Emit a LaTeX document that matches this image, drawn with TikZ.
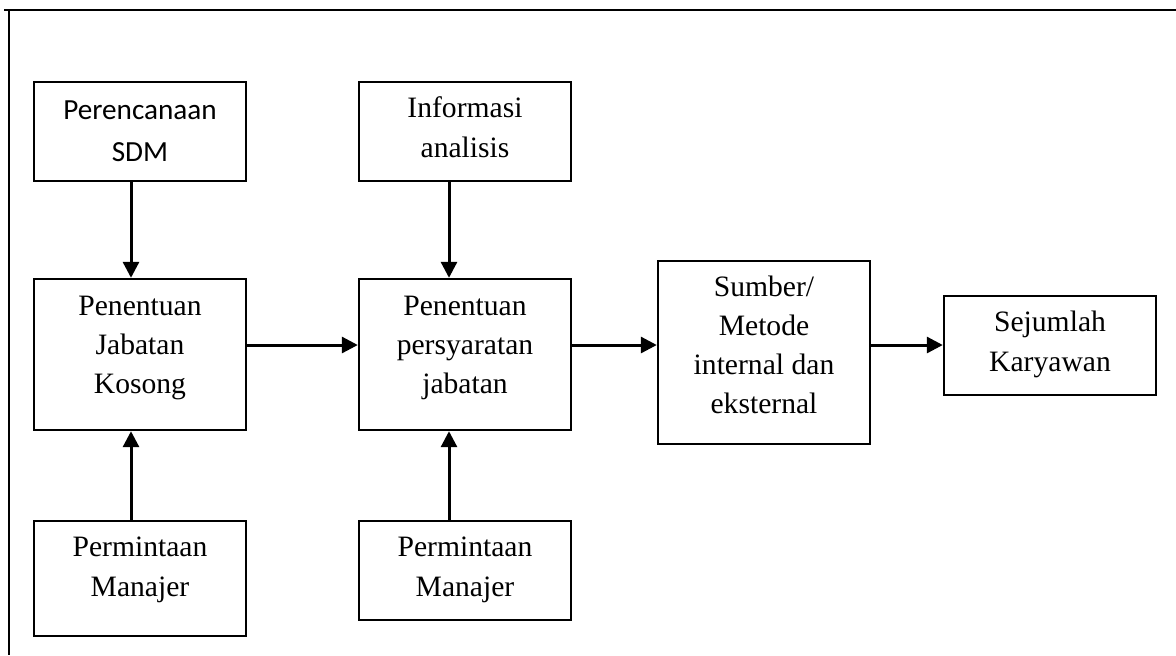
\documentclass[tikz,border=0pt]{standalone}
\usepackage{fontspec}
\setmainfont{Liberation Serif}
\newfontfamily\calibrifont{Carlito}
\usetikzlibrary{arrows.meta}

\begin{document}
\begin{tikzpicture}[x=0.5pt, y=-0.5pt,
  blk/.style={draw, line width=1.2pt, inner sep=0pt, minimum width=106pt},
  lbl/.style={anchor=north, inner sep=0pt, align=center,
              font=\fontsize{14.8}{19.6}\selectfont},
  lblsans/.style={lbl, font=\calibrifont\fontsize{14.6}{21}\selectfont},
  arr/.style={line width=1.5pt, -{Triangle[length=8pt, width=8pt]}},
  frame/.style={line width=1.2pt}]

  % page area and the outer table border
  \useasboundingbox (0,0) rectangle (1176,655);
  \draw[frame] (4,10) -- (1176,10);
  \draw[frame] (9,10) -- (9,655);

  % boxes
  \node[blk, minimum height=49.5pt] (plan)   at (140,131.5) {};
  \node[blk, minimum height=49.5pt] (info)   at (465,131.5) {};
  \node[blk, minimum height=75.5pt] (kosong) at (140,354.5) {};
  \node[blk, minimum height=75.5pt] (syarat) at (465,354.5) {};
  \node[blk, minimum height=57.5pt] (mgrA)   at (140,578.5) {};
  \node[blk, minimum height=49.5pt] (mgrB)   at (465,570.5) {};
  \node[blk, minimum height=91.5pt] (sumber) at (764,352.5) {};
  \node[blk, minimum height=49.5pt] (jumlah) at (1050,345.5) {};

  % box texts, set from the top of each box
  \node[lblsans] (tplan)   at ([yshift=-4.3pt]plan.north)   {\strut Perencanaan\\SDM};
  \node[lbl]     (tinfo)   at ([yshift=-4.6pt]info.north)   {\strut Informasi\\analisis};
  \node[lbl]     (tkosong) at ([yshift=-4.9pt]kosong.north) {\strut Penentuan\\Jabatan\\Kosong};
  \node[lbl]     (tsyarat) at ([yshift=-4.9pt]syarat.north) {\strut Penentuan\\persyaratan\\jabatan};
  \node[lbl]     (tmgrA)   at ([yshift=-4.6pt]mgrA.north)   {\strut Permintaan\\Manajer};
  \node[lbl]     (tmgrB)   at ([yshift=-4.6pt]mgrB.north)   {\strut Permintaan\\Manajer};
  \node[lbl]     (tsumber) at ([yshift=-4.2pt]sumber.north) {\strut Sumber/\\Metode\\internal dan\\eksternal};
  \node[lbl]     (tjumlah) at ([yshift=-4.6pt]jumlah.north) {\strut Sejumlah\\Karyawan};

  % connector guides: main row and the two input columns
  \coordinate (row)  at (0,345);
  \coordinate (colA) at (131,0);
  \coordinate (colB) at (449,0);

  % connectors
  \draw[arr] (plan.south -| colA) -- (kosong.north -| colA);
  \draw[arr] (mgrA.north -| colA) -- (kosong.south -| colA);
  \draw[arr] (info.south -| colB) -- (syarat.north -| colB);
  \draw[arr] (mgrB.north -| colB) -- (syarat.south -| colB);
  \draw[arr] (kosong.east |- row) -- (syarat.west |- row);
  \draw[arr] (syarat.east |- row) -- (sumber.west |- row);
  \draw[arr] (sumber.east |- row) -- (jumlah.west |- row);
\end{tikzpicture}
\end{document}
